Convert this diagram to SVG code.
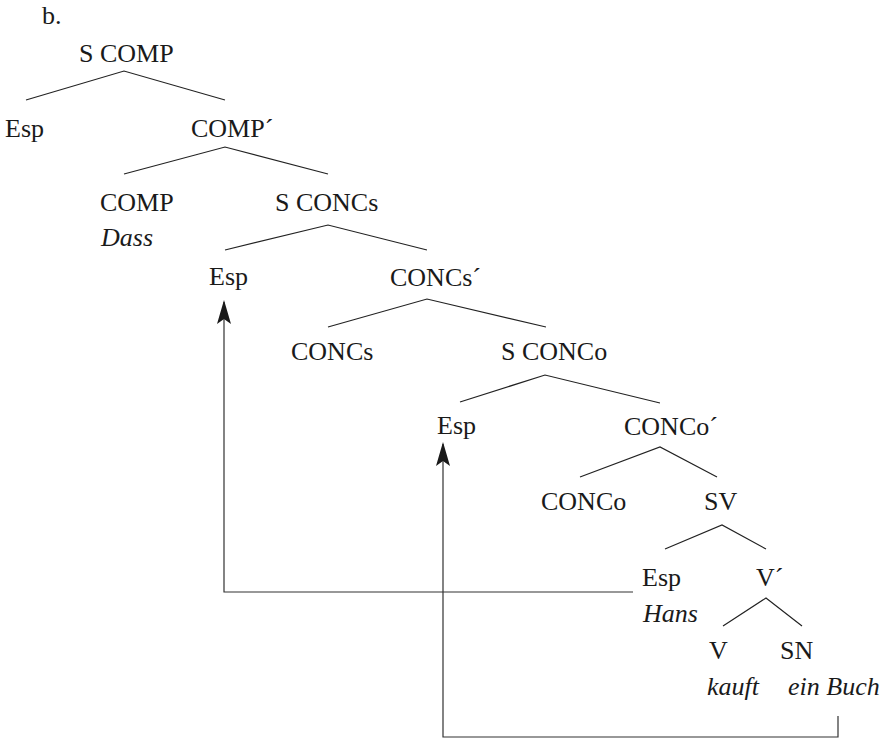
<svg xmlns="http://www.w3.org/2000/svg" width="892" height="740" viewBox="0 0 892 740">
  <style>
    text { font-family: "Liberation Serif", "Times New Roman", serif; font-size: 26px; fill: #1a1a1a; }
    .it { font-style: italic; }
    .branch { stroke: #222; stroke-width: 1.2; fill: none; }
    .move { stroke: #333; stroke-width: 1.2; fill: none; }
  </style>
  <defs>
    <marker id="head" markerUnits="userSpaceOnUse" viewBox="0 0 24 14" refX="22" refY="7" markerWidth="24" markerHeight="14" orient="auto">
      <path d="M0,0 L24,7 L0,14 L5,7 Z" fill="#1a1a1a"/>
    </marker>
  </defs>
  <rect width="892" height="740" fill="#fff"/>

  <text x="42" y="24">b.</text>

  <g id="n-scomp"><text x="79" y="62">S COMP</text></g>
  <g id="n-esp1"><text x="5" y="137">Esp</text></g>
  <g id="n-compbar"><text x="191" y="137">COMP´</text></g>
  <g id="n-comp"><text x="100" y="211">COMP</text><text class="it" x="101" y="246">Dass</text></g>
  <g id="n-sconcs"><text x="275" y="211">S CONCs</text></g>
  <g id="n-esp2"><text x="209" y="285">Esp</text></g>
  <g id="n-concsbar"><text x="390" y="286">CONCs´</text></g>
  <g id="n-concs"><text x="291" y="360">CONCs</text></g>
  <g id="n-sconco"><text x="501" y="360">S CONCo</text></g>
  <g id="n-esp3"><text x="437" y="434">Esp</text></g>
  <g id="n-concobar"><text x="624" y="435">CONCo´</text></g>
  <g id="n-conco"><text x="541" y="510">CONCo</text></g>
  <g id="n-sv"><text x="704" y="510">SV</text></g>
  <g id="n-esp4"><text x="642" y="586">Esp</text><text class="it" x="643" y="622">Hans</text></g>
  <g id="n-vbar"><text x="756" y="586">V´</text></g>
  <g id="n-v"><text x="709" y="659">V</text><text class="it" x="707" y="695">kauft</text></g>
  <g id="n-sn"><text x="780" y="659">SN</text><text class="it" x="788" y="695">ein Buch</text></g>

  <g id="connectors">
    <path class="branch" d="M26,100 L124,71 L225,100"/>
    <path class="branch" d="M124,174 L225,147 L328,174"/>
    <path class="branch" d="M225,250 L328,225 L427,250"/>
    <path class="branch" d="M328,327 L427,299 L546,327"/>
    <path class="branch" d="M460,402 L545,375 L660,403"/>
    <path class="branch" d="M580,477 L660,447 L717,477"/>
    <path class="branch" d="M665,549 L722,525 L766,549"/>
    <path class="branch" d="M723,626 L766,598 L802,626"/>
    <path class="move" d="M633,592 H224 V302" marker-end="url(#head)"/>
    <path class="move" d="M838,716 V737 H443 V444" marker-end="url(#head)"/>
  </g>
</svg>
